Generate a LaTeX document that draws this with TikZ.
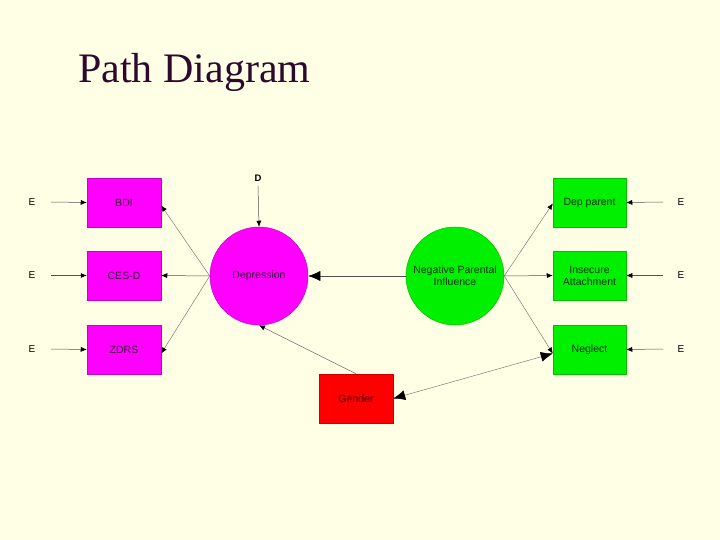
\documentclass[tikz,border=0pt]{standalone}
\usepackage{fontspec}
\setmainfont{Liberation Serif}
\newfontfamily\arialf{Liberation Sans}
\usetikzlibrary{arrows.meta}
\definecolor{bg}{RGB}{255,255,230}
\definecolor{titlec}{RGB}{45,10,45}
\definecolor{mag}{RGB}{255,0,255}
\definecolor{magb}{RGB}{200,0,200}
\definecolor{grn}{RGB}{0,240,0}
\definecolor{grnb}{RGB}{0,190,0}
\definecolor{redc}{RGB}{255,0,0}
\definecolor{redb}{RGB}{200,0,0}
\definecolor{linec}{RGB}{80,80,80}
\tikzset{
  lbl/.style={font=\arialf\fontsize{10.5}{12}\selectfont, align=center},
  magbox/.style={lbl, rectangle, fill=mag, draw=magb, line width=0.5pt, minimum width=74pt, minimum height=49pt, inner sep=0pt, text=black!80!mag},
  grnbox/.style={lbl, rectangle, fill=grn, draw=grnb, line width=0.5pt, minimum width=73pt, minimum height=49pt, inner sep=0pt, text=black!80!grn},
  redbox/.style={lbl, rectangle, fill=redc, draw=redb, line width=0.5pt, minimum width=74pt, minimum height=49pt, inner sep=0pt, text=black!80!redc},
  magcirc/.style={lbl, circle, fill=mag, draw=magb, line width=0.5pt, minimum size=98pt, inner sep=0pt, text=black!80!mag},
  grncirc/.style={lbl, circle, fill=grn, draw=grnb, line width=0.5pt, minimum size=98pt, inner sep=0pt, text=black!80!grn},
  errlbl/.style={font=\arialf\fontsize{10}{12}\selectfont, inner sep=0pt},
  conn/.style={draw=linec, line width=0.5pt, -{Latex[length=6pt,width=5pt,black]}},
  diag/.style={draw=linec!80, line width=0.45pt, -{Latex[length=6pt,width=5pt,black]}},
  bigconn/.style={draw=linec, line width=0.5pt, -{Latex[length=12pt,width=10pt,black]}},
  bigtip/.style={{Latex[length=12pt,width=10pt,black]}-{Latex[length=12pt,width=10pt,black]}},
}
\begin{document}
\begin{tikzpicture}[x=1pt,y=-1pt]
\fill[bg] (0,0) rectangle (720,540);
\useasboundingbox (0,0) rectangle (720,540);
\node[anchor=base west, inner sep=0pt, text=titlec, font=\fontsize{42}{48}\selectfont] (title) at (78,83) {Path Diagram};

% left boxes
\node[magbox] (bdi) at (124,202.5) {BDI};
\node[magbox] (cesd) at (124,275.5) {CES-D};
\node[magbox] (zdrs) at (124,349.5) {ZDRS};
% right boxes
\node[grnbox] (dep) at (589.5,202.5) {Dep parent};
\node[grnbox] (ins) at (589.5,275.5) {Insecure\\Attachment};
\node[grnbox] (neg) at (589.5,349.5) {Neglect};
% gender
\node[redbox] (gen) at (356,398.5) {Gender};
% circles
\node[magcirc] (depr) at (259,276) {Depression};
\node[grncirc] (npi) at (455,276) {Negative Parental\\Influence};

% error labels
\node[errlbl] (e1) at (32,202) {E};
\node[errlbl] (e2) at (32,275.5) {E};
\node[errlbl] (e3) at (32,349) {E};
\node[errlbl] (e4) at (681,202) {E};
\node[errlbl] (e5) at (681,275.5) {E};
\node[errlbl] (e6) at (681,349) {E};
\node[errlbl, font=\arialf\bfseries\fontsize{9.5}{12}\selectfont] (d) at (258,178) {D};

\coordinate (s1) at (51,202);
\coordinate (s2) at (51,275.5);
\coordinate (s3) at (51,349);
\coordinate (s4) at (663,202);
\coordinate (s5) at (663,275.5);
\coordinate (s6) at (663,349);
\coordinate (sd) at (258,186);

\draw[conn] (s1) -- (bdi.west);
\draw[conn] (s2) -- (cesd.west);
\draw[conn] (s3) -- (zdrs.west);
\draw[conn] (s4) -- (dep.east);
\draw[conn] (s5) -- (ins.east);
\draw[conn] (s6) -- (neg.east);
\draw[conn] (sd) -- (depr.north);

% depression -> indicators
\draw[diag] (depr.west) -- ([yshift=-3pt]bdi.east);
\draw[conn] (depr.west) -- (cesd.east);
\draw[diag] (depr.west) -- ([yshift=-4pt]zdrs.east);
% npi -> indicators
\draw[diag] (npi.east) -- ([yshift=-1pt]dep.west);
\draw[conn] (npi.east) -- (ins.west);
\draw[diag] (npi.east) -- ([yshift=-4pt]neg.west);
% npi -> depression
\draw[bigconn] (npi.west) -- (depr.east);
% gender -> depression
\draw[diag] (gen.north) -- (depr.south);
% gender <-> neglect
\draw[diag, bigtip] (gen.east) -- ([yshift=-4pt]neg.west);
\end{tikzpicture}
\end{document}
